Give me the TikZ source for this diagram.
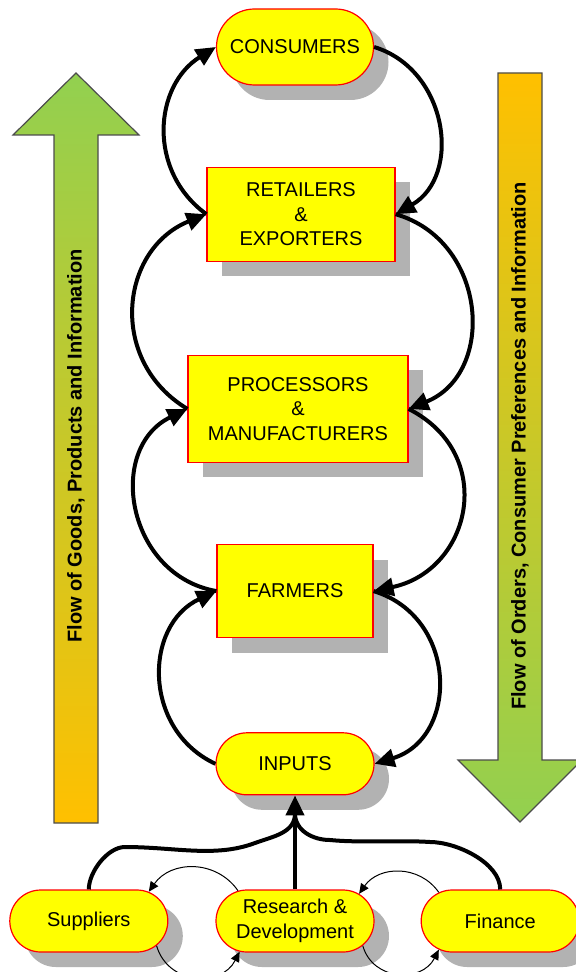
\documentclass[tikz,border=0pt]{standalone}
\usepackage{fontspec}
\setmainfont{Liberation Sans}
\usetikzlibrary{shapes,arrows.meta,positioning,shadows}

\definecolor{boxyellow}{RGB}{255,255,0}
\definecolor{flowgreen}{RGB}{146,208,80}
\definecolor{flowgold}{RGB}{255,192,0}

\begin{document}
\begin{tikzpicture}[x=0.5pt, y=0.5pt,
  base/.style={draw=red, line width=0.6pt, fill=boxyellow, align=center, font=\fontsize{10}{12.25}\selectfont,
    drop shadow={shadow xshift=7.5pt, shadow yshift=-7.5pt, fill=black!30, opacity=1}},
  block/.style={base, rectangle},
  stad/.style={base, rounded rectangle, inner xsep=-14pt, inner ysep=1pt, minimum width=51pt, minimum height=31pt},
  flow/.style={-{Triangle[length=10pt, width=9pt]}, line width=2pt},
  link/.style={-{Triangle[length=5pt, width=4.5pt]}, line width=0.5pt},
  bigarrow/.style={draw=black!70, line width=0.6pt},
  flowtext/.style={rotate=90, font=\fontsize{10}{12}\selectfont\bfseries}]
\useasboundingbox (0,0) rectangle (576,-972);

% side arrows
\draw[bigarrow, top color=flowgreen, bottom color=flowgold] (54,-823) -- (54,-135) -- (13,-135) -- (76,-73) -- (139,-135) -- (98,-135) -- (98,-823) -- cycle;
\draw[bigarrow, top color=flowgold, bottom color=flowgreen] (498,-73) -- (542,-73) -- (542,-760) -- (582,-760) -- (520,-822) -- (458,-760) -- (498,-760) -- cycle;
\node[flowtext] (goods) at (76,-446) {Flow of Goods, Products and Information};
\node[flowtext] (orders) at (520,-446) {Flow of Orders, Consumer Preferences and Information};

% chain
\node[stad, minimum height=38pt, minimum width=50.5pt] (cons) at (295,-47) {CONSUMERS};
\node[block, minimum width=94pt, minimum height=47pt, below=40.5pt of cons, xshift=3pt] (ret) {RETAILERS\\\&\\EXPORTERS};
\node[block, minimum width=110pt, minimum height=53.5pt, below=46.5pt of ret, xshift=-1.5pt] (proc) {PROCESSORS\\\&\\MANUFACTURERS};
\node[block, minimum width=78pt, minimum height=46.5pt, below=40.5pt of proc, xshift=-1.5pt] (farm) {FARMERS};
\node[stad, below=47pt of farm] (inp) {INPUTS};
\node[stad, below=47pt of inp] (rd) {Research \&\\Development};
\node[stad, left=23.5pt of rd] (sup) {Suppliers};
\node[stad, right=23pt of rd] (fin) {Finance};
\coordinate[below=9pt of inp] (merge);

% upward loop
\draw[flow] (ret.west) to[out=144, in=212, looseness=1.12] (cons.west);
\draw[flow] (proc.west) to[out=149, in=202, looseness=1.22] (ret.west);
\draw[flow] (farm.west) to[out=170, in=206, looseness=1.26] (proc.west);
\draw[flow] (inp.west) to[out=155, in=205, looseness=1.19] (farm.west);
% downward loop
\draw[flow] (cons.east) to[out=-17, in=30, looseness=1.17] (ret.east);
\draw[flow] (ret.east) to[out=-16, in=22, looseness=1.25] (proc.east);
\draw[flow] (proc.east) to[out=-27, in=12, looseness=1.38] (farm.east);
\draw[flow] (farm.east) to[out=-17, in=17, looseness=1.31] (inp.east);

% into inputs
\draw[flow] (rd.north) -- (inp.south);
\draw[line width=2pt] (sup.north) to[out=90, in=180, looseness=0.8] (125,-847) .. controls (175,-847) and (215,-858) .. (255,-843) to[out=20, in=270] (merge);
\draw[line width=2pt] (fin.north) to[out=90, in=0, looseness=0.8] (430,-842) .. controls (400,-840) and (360,-843) .. (330,-840) to[out=180, in=270] (merge);

% side links
\draw[link] (rd.152) to[out=125, in=55, looseness=1.1] (sup.26);
\draw[link] (sup.-20) to[out=-74, in=-117, looseness=1.25] (rd.209);
\draw[link] (fin.155) to[out=125, in=55, looseness=1.1] (rd.23);
\draw[link] (rd.-20) to[out=-74, in=-117, looseness=1.25] (fin.205);
\end{tikzpicture}
\end{document}
